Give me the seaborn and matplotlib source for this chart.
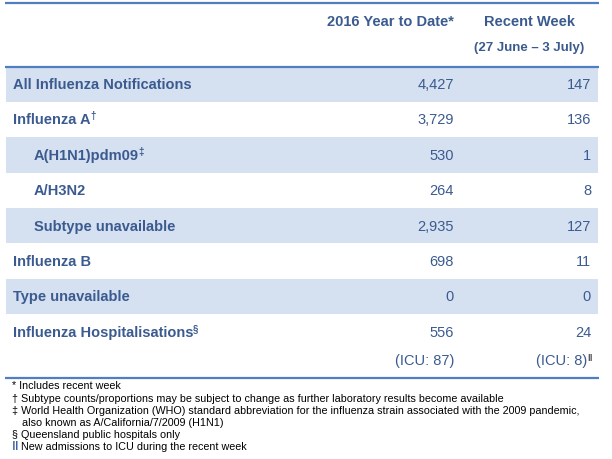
import matplotlib
matplotlib.use("Agg")
import matplotlib.pyplot as plt
import seaborn as sns
import pandas as pd

# Table content
row_labels = [
    "All Influenza Notifications",
    "Influenza A",
    "A(H1N1)pdm09",
    "A/H3N2",
    "Subtype unavailable",
    "Influenza B",
    "Type unavailable",
    "Influenza Hospitalisations",
]
row_marks = ["", "†", "‡", "", "", "", "", "§"]
row_indent = [0, 0, 1, 1, 1, 0, 0, 0]
row_shaded = [1, 0, 1, 0, 1, 0, 1, 0]
ytd_values = [4427, 3729, 530, 264, 2935, 698, 0, 556]
recent_values = [147, 136, 1, 8, 127, 11, 0, 24]
icu_ytd = 87
icu_recent = 8

col_headers = ["2016 Year to Date*", "Recent Week"]
week_label = "(27 June – 3 July)"

footnotes = [
    "* Includes recent week",
    "† Subtype counts/proportions may be subject to change as further laboratory results become available",
    "‡ World Health Organization (WHO) standard abbreviation for the influenza strain associated with the 2009 pandemic,",
    "also known as A/California/7/2009 (H1N1)",
    "§ Queensland public hospitals only",
    "New admissions to ICU during the recent week",
]

# Style
TEXT_BLUE = "#3b5b90"
BAND = "#d5e0f0"
RULE = "#4f7fc0"
W, H = 612, 460
ROW0, PITCH = 85, 35.4  # pixel centre of first row, row pitch
FONTS = ["Liberation Sans", "DejaVu Sans"]

sns.set_theme(style="white")
plt.rcParams["font.family"] = FONTS


def py(p):
    # pixel row -> data y (row units)
    return (p - ROW0) / PITCH


def px(p):
    # pixel column -> data x
    return p - 6


fig = plt.figure(figsize=(W / 100, H / 100), dpi=100)
ax = fig.add_axes([0, 0, 1, 1])

df = pd.DataFrame({
    "label": row_labels,
    "band": [592 if s else 0 for s in row_shaded],
})
sns.barplot(data=df, x="band", y="label", orient="h", color=BAND,
            width=1.0, linewidth=0, saturation=1, ax=ax)

ax.set_xlim(-6, W - 6)
ax.set_ylim(py(H), py(0))
ax.axis("off")

# rules
for p in (4, 68, 379):
    ax.plot([px(5), px(599)], [py(p), py(p)], color=RULE, lw=1.6,
            solid_capstyle="butt")

# column headers
ax.text(px(454), py(22), col_headers[0], ha="right", va="center",
        fontsize=10.5, fontweight="bold", color=TEXT_BLUE)
ax.text(px(529.5), py(22), col_headers[1], ha="center", va="center",
        fontsize=10.5, fontweight="bold", color=TEXT_BLUE)
ax.text(px(529), py(48), week_label, ha="center", va="center",
        fontsize=9.5, fontweight="bold", color=TEXT_BLUE)

# rows
for i, lab in enumerate(row_labels):
    x0 = 34 if row_indent[i] else 13
    t = ax.text(px(x0), i, lab, ha="left", va="center", fontsize=10.5,
                fontweight="bold", color=TEXT_BLUE)
    if row_marks[i]:
        ax.annotate(row_marks[i], xy=(1, 1), xycoords=t, xytext=(-0.3, 1.5),
                    textcoords="offset points", ha="left", va="top",
                    fontsize=7, fontweight="bold", color=TEXT_BLUE)
    ax.text(px(454), i, f"{ytd_values[i]:,}", ha="right", va="center",
            fontsize=10.5, color=TEXT_BLUE)
    ax.text(px(591), i, f"{recent_values[i]:,}", ha="right", va="center",
            fontsize=10.5, color=TEXT_BLUE)

# ICU line under hospitalisations
ax.text(px(454), py(361), f"(ICU: {icu_ytd})", ha="right", va="center",
        fontsize=10.5, color=TEXT_BLUE)
t = ax.text(px(587), py(361), f"(ICU: {icu_recent})", ha="right",
            va="center", fontsize=10.5, color=TEXT_BLUE)
ax.annotate("‖", xy=(1, 1), xycoords=t, xytext=(0.3, 0),
            textcoords="offset points", ha="left", va="top",
            fontsize=6.5, fontweight="bold", color="#222222")

# footnotes
foot_y = [386, 399, 411, 423, 435, 447]
foot_x = [12, 12, 12, 22, 12, 21]
for fy, fx, note in zip(foot_y, foot_x, footnotes):
    ax.text(px(fx), py(fy), note, ha="left", va="center", fontsize=7.75,
            color="black")
ax.text(px(12), py(447), "‖", ha="left", va="center", fontsize=9.5,
        fontweight="bold", color="#3a62a8")

fig.savefig("out.png", dpi=100)
plt.close(fig)
